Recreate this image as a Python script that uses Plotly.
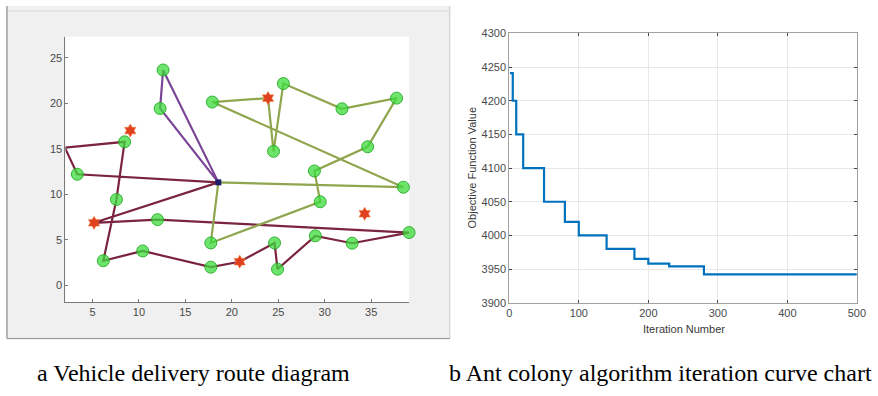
import plotly.graph_objects as go

W, H = 878, 396

# ---------------- Left panel data (vehicle routes) ----------------
depot_x = [18.55]
depot_y = [11.31]

customers_x = [12.28, 12.6, 17.9, 24.49, 25.55, 31.86, 37.73, 34.62, 28.89, 38.47, 29.52, 17.74,
               2.03, 3.37, 8.46, 7.58, 12.0, 6.17, 10.41, 17.74, 24.6, 24.92, 28.99, 32.95, 39.08]
customers_y = [19.42, 23.65, 20.13, 14.72, 22.16, 19.39, 20.56, 15.22, 12.56, 10.78, 9.18, 4.66,
               15.12, 12.2, 15.76, 9.43, 7.22, 2.71, 3.78, 2.0, 4.66, 1.78, 5.44, 4.63, 5.8]

stations_x = [23.9, 5.17, 20.85, 34.3, 9.07]
stations_y = [20.56, 6.87, 2.6, 7.86, 17.0]

route_purple_x = [18.55, 12.28, 12.6, 18.55]
route_purple_y = [11.31, 19.42, 23.65, 11.31]

route_olive_x = [18.55, 38.47, 17.9, 23.9, 24.49, 25.55, 31.86, 37.73, 34.62, 28.89, 29.52, 17.74, 18.55]
route_olive_y = [11.31, 10.78, 20.13, 20.56, 14.72, 22.16, 19.39, 20.56, 15.22, 12.56, 9.18, 4.66, 11.31]

route_maroon_x = [18.55, 3.37, 2.03, 8.46, 7.58, 6.17, 10.41, 17.74, 20.85, 24.6, 24.92, 28.99, 32.95, 39.08, 12.0, 5.17, 18.55]
route_maroon_y = [11.31, 12.2, 15.12, 15.76, 9.43, 2.71, 3.78, 2.0, 2.6, 4.66, 1.78, 5.44, 4.63, 5.8, 7.22, 6.87, 11.31]

left_xticks = [5, 10, 15, 20, 25, 30, 35]
left_yticks = [0, 5, 10, 15, 20, 25]

# ---------------- Right panel data (iteration curve) ----------------
iteration_breaks = [1, 5, 10, 20, 50, 80, 100, 140, 180, 200, 230, 280, 500]
best_values = [4241, 4200, 4150, 4100, 4050, 4020, 4000, 3980, 3965, 3958, 3954, 3942, 3942]
right_xticks = [0, 100, 200, 300, 400, 500]
right_yticks = [3900, 3950, 4000, 4050, 4100, 4150, 4200, 4250, 4300]

captions = ["a Vehicle delivery route diagram", "b Ant colony algorithm iteration curve chart"]

fig = go.Figure()

line_w = 2.2
fig.add_trace(go.Scatter(x=route_maroon_x, y=route_maroon_y, mode="lines",
                         line=dict(color="#7b2440", width=line_w), xaxis="x", yaxis="y",
                         cliponaxis=False, hoverinfo="skip"))
fig.add_trace(go.Scatter(x=route_olive_x, y=route_olive_y, mode="lines",
                         line=dict(color="#8fa64e", width=line_w), xaxis="x", yaxis="y",
                         cliponaxis=False, hoverinfo="skip"))
fig.add_trace(go.Scatter(x=route_purple_x, y=route_purple_y, mode="lines",
                         line=dict(color="#7a4596", width=line_w), xaxis="x", yaxis="y",
                         cliponaxis=False, hoverinfo="skip"))
fig.add_trace(go.Scatter(x=customers_x, y=customers_y, mode="markers",
                         marker=dict(symbol="circle", size=12, color="rgba(60,220,60,0.75)",
                                     line=dict(color="rgba(40,170,40,0.9)", width=1)),
                         xaxis="x", yaxis="y", cliponaxis=False))
fig.add_trace(go.Scatter(x=stations_x, y=stations_y, mode="markers",
                         marker=dict(symbol="hexagram", size=10, color="#e0401e",
                                     line=dict(color="#f08040", width=0.5)),
                         xaxis="x", yaxis="y", cliponaxis=False))
fig.add_trace(go.Scatter(x=depot_x, y=depot_y, mode="markers",
                         marker=dict(symbol="square", size=6, color="#1c1c6a"),
                         xaxis="x", yaxis="y", cliponaxis=False))

fig.add_trace(go.Scatter(x=iteration_breaks, y=best_values, mode="lines", line_shape="hv",
                         line=dict(color="#0072BD", width=2.2), xaxis="x2", yaxis="y2"))

tickfont = dict(family="Liberation Sans, Arial, sans-serif", size=11, color="#4a4a4a")

ld = [63.3 / W, 411.7 / W]
ly = [1 - 305.5 / H, 1 - 31.7 / H]
rd = [513.3 / W, 865.7 / W]
ry = [1 - 306 / H, 1 - 28.3 / H]

fig.update_layout(
    width=W, height=H, margin=dict(l=0, r=0, t=0, b=0),
    paper_bgcolor="white", plot_bgcolor="white", showlegend=False,
    xaxis=dict(domain=ld, range=[2.09, 39.08], tickvals=left_xticks, ticks="inside", ticklen=3,
               tickcolor="#7a7a7a", showline=True, linecolor="#7a7a7a", linewidth=1,
               showgrid=False, zeroline=False, tickfont=tickfont, anchor="y"),
    yaxis=dict(domain=ly, range=[-1.85, 27.3], tickvals=left_yticks, ticks="inside", ticklen=3,
               tickcolor="#7a7a7a", showline=True, linecolor="#7a7a7a", linewidth=1,
               showgrid=False, zeroline=False, tickfont=tickfont, anchor="x"),
    xaxis2=dict(domain=rd, range=[0, 500], tickvals=right_xticks, ticks="inside", ticklen=3,
                tickcolor="#444", showline=True, mirror="ticks", linecolor="#a0a0a0", linewidth=1,
                showgrid=True, gridcolor="#e8e8e8", zeroline=False, tickfont=tickfont, anchor="y2"),
    yaxis2=dict(domain=ry, range=[3900, 4300], tickvals=right_yticks, ticks="inside", ticklen=3,
                tickcolor="#444", showline=True, mirror="ticks", linecolor="#a0a0a0", linewidth=1,
                showgrid=True, gridcolor="#e8e8e8", zeroline=False, tickfont=tickfont, anchor="x2"),
)

shapes = [
    dict(type="rect", xref="paper", yref="paper", x0=4 / W, x1=453 / W, y0=1 - 343 / H, y1=1,
         fillcolor="#f0f0f0", line=dict(width=0), layer="below"),
    dict(type="line", xref="paper", yref="paper", x0=4 / W, x1=453 / W, y0=1 - 5 / H, y1=1 - 5 / H,
         line=dict(color="#dadada", width=1), layer="below"),
    dict(type="line", xref="paper", yref="paper", x0=4 / W, x1=4 / W, y0=1 - 343 / H, y1=1,
         line=dict(color="#8a8a8a", width=1.2), layer="below"),
    dict(type="line", xref="paper", yref="paper", x0=453 / W, x1=453 / W, y0=1 - 343 / H, y1=1,
         line=dict(color="#c8c8c8", width=1), layer="below"),
    dict(type="line", xref="paper", yref="paper", x0=4 / W, x1=453 / W, y0=1 - 343 / H, y1=1 - 343 / H,
         line=dict(color="#8a8a8a", width=1), layer="below"),
    dict(type="rect", xref="paper", yref="paper", x0=ld[0], x1=ld[1], y0=ly[0], y1=ly[1],
         fillcolor="white", line=dict(width=0), layer="below"),
]
fig.update_layout(shapes=shapes)

axfont = dict(family="Liberation Sans, Arial, sans-serif", size=11, color="#3a3a3a")
capfont = dict(family="Liberation Serif, Times New Roman, serif", size=24, color="black")
fig.add_annotation(text="Iteration Number", x=690 / W, y=1 - 333 / H, xref="paper", yref="paper",
                   showarrow=False, font=axfont, xanchor="center", yanchor="middle")
fig.add_annotation(text="Objective Function Value", x=475 / W, y=1 - 167 / H, xref="paper", yref="paper",
                   showarrow=False, font=axfont, textangle=-90, xanchor="center", yanchor="middle")
fig.add_annotation(text=captions[0], x=193 / W, y=1 - 378 / H, xref="paper", yref="paper",
                   showarrow=False, font=capfont, xanchor="center", yanchor="middle")
fig.add_annotation(text=captions[1], x=667 / W, y=1 - 378 / H, xref="paper", yref="paper",
                   showarrow=False, font=capfont, xanchor="center", yanchor="middle")

fig.write_html("out.html")
